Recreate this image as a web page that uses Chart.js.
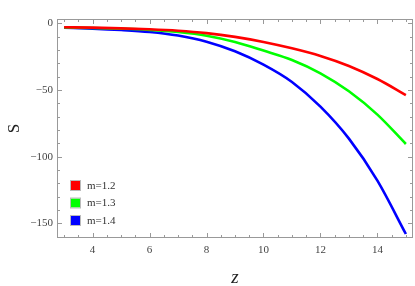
<!DOCTYPE html>
<html lang="en">
<head>
  <meta charset="UTF-8">
  <title>S vs z</title>
  <style>
    html, body { margin: 0; padding: 0; background: #fff; }
    .chart__box { width: 415px; height: 286px; position: relative; }
  </style>
</head>
<body>
  <div class="chart__box">
    <canvas id="sChart"></canvas>
  </div>

  <script src="https://cdn.jsdelivr.net/npm/chart.js"></script>
  <script>
    // Data
    const zValues = [3, 4, 5, 6, 7, 8, 9, 10, 11, 12, 13, 14, 15];
    const sM12 = [-3.0, -3.3, -3.8, -4.5, -5.6, -7.4, -10.2, -14.0, -18.8, -24.5, -32.0, -41.8, -53.8];
    const sM13 = [-3.2, -3.5, -4.1, -5.0, -6.6, -9.3, -14.0, -20.5, -27.5, -37.5, -51.0, -68.5, -90.5];
    const sM14 = [-3.4, -4.0, -5.0, -6.5, -9.2, -13.8, -21.0, -31.0, -44.0, -62.5, -86.5, -118.0, -158.0];
    const seriesLabels = ['m=1.2', 'm=1.3', 'm=1.4'];
    const seriesColors = ['#ff0000', '#00ff00', '#0000ff'];
    const xTicks = [4, 6, 8, 10, 12, 14];
    const yTicks = [0, -50, -100, -150];

    const tickFont = { family: 'Liberation Serif', size: 11 };
    const tickColor = '#444';

    const toPoints = function(vals) {
      return zValues.map(function(z, i) { return { x: z, y: vals[i] }; });
    };

    const datasets = [sM12, sM13, sM14].map(function(vals, i) {
      return {
        label: seriesLabels[i],
        data: toPoints(vals),
        borderColor: seriesColors[i],
        backgroundColor: seriesColors[i],
        borderWidth: 2.6,
        pointRadius: 0,
        cubicInterpolationMode: 'monotone',
        fill: false
      };
    });

    // frame with inward ticks on all four sides, like the original
    const framePlugin = {
      id: 'frame',
      afterDatasetsDraw(chart) {
        const { ctx, chartArea: a, scales: { x, y } } = chart;
        ctx.save();
        ctx.strokeStyle = '#999';
        ctx.lineWidth = 1;
        ctx.strokeRect(a.left + 0.5, a.top + 0.5, a.right - a.left - 1, a.bottom - a.top - 1);
        ctx.beginPath();
        for (let v = 3; v <= 15.001; v += 0.5) {
          const px = Math.round(x.getPixelForValue(v)) + 0.5;
          const len = (Math.abs(v % 2) < 0.01) ? 5 : 3;
          ctx.moveTo(px, a.bottom); ctx.lineTo(px, a.bottom - len);
          ctx.moveTo(px, a.top); ctx.lineTo(px, a.top + len);
        }
        for (let v = -160; v <= 0; v += 10) {
          const py = Math.round(y.getPixelForValue(v)) + 0.5;
          const len = (v % 50 === 0) ? 5 : 3;
          ctx.moveTo(a.left, py); ctx.lineTo(a.left + len, py);
          ctx.moveTo(a.right, py); ctx.lineTo(a.right - len, py);
        }
        ctx.stroke();
        ctx.restore();
      }
    };

    // legend in lower left of plot
    const legendPlugin = {
      id: 'innerLegend',
      afterDraw(chart) {
        const { ctx, chartArea: a } = chart;
        ctx.save();
        ctx.font = '11px "Liberation Serif"';
        ctx.textBaseline = 'middle';
        chart.data.datasets.forEach(function(ds, i) {
          const bx = a.left + 14;
          const by = a.top + 162 + i * 17.5;
          ctx.fillStyle = ds.borderColor;
          ctx.fillRect(bx, by, 9, 9);
          ctx.strokeStyle = '#bbb';
          ctx.lineWidth = 1;
          ctx.strokeRect(bx - 0.5, by - 0.5, 10, 10);
          ctx.fillStyle = '#333';
          ctx.fillText(ds.label, bx + 16, by + 5);
        });
        ctx.restore();
      }
    };

    const config = {
      type: 'line',
      data: { datasets: datasets },
      options: {
        responsive: true,
        maintainAspectRatio: false,
        animation: false,
        layout: { padding: { top: 19, right: 2, left: 0, bottom: 0 } },
        plugins: {
          legend: { display: false },
          tooltip: { enabled: false }
        },
        scales: {
          x: {
            type: 'linear',
            min: 2.75,
            max: 15.25,
            afterBuildTicks: function(scale) {
              scale.ticks = xTicks.map(function(v) { return { value: v }; });
            },
            afterFit: function(scale) { scale.height = 48; },
            grid: { display: false, drawTicks: false },
            border: { display: false },
            ticks: { font: tickFont, color: tickColor, padding: 6, maxRotation: 0 },
            title: {
              display: true,
              text: 'z',
              font: { family: 'Liberation Serif', size: 19, style: 'italic' },
              color: '#222',
              padding: { top: 4, bottom: -3 }
            }
          },
          y: {
            min: -161,
            max: 3.2,
            afterBuildTicks: function(scale) {
              scale.ticks = yTicks.map(function(v) { return { value: v }; });
            },
            afterFit: function(scale) { scale.width = 57; },
            grid: { display: false, drawTicks: false },
            border: { display: false },
            ticks: {
              font: tickFont,
              color: tickColor,
              padding: 4,
              callback: function(v) { return String(v).replace('-', '\u2212'); }
            },
            title: {
              display: true,
              text: 'S',
              font: { family: 'Liberation Serif', size: 17 },
              color: '#222',
              padding: { top: 4, bottom: 0 }
            }
          }
        }
      },
      plugins: [framePlugin, legendPlugin]
    };

    const sChart = new Chart(document.getElementById('sChart'), config);
  </script>
</body>
</html>
